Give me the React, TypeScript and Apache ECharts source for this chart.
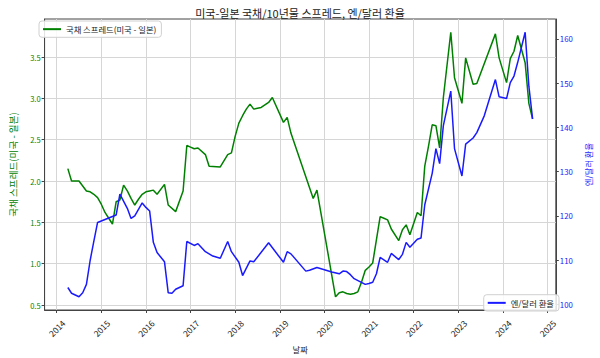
import React, { useEffect, useRef } from "react";
import * as echarts from "echarts";

const FONT = '"Noto Sans CJK KR", "Noto Sans", sans-serif';
const GREEN = "#008000";
const BLUE = "#1a1aff";

const TITLE = "미국-일본 국채/10년물 스프레드, 엔/달러 환율";
const SPREAD_NAME = "국채 스프레드(미국 - 일본)";
const FX_NAME = "엔/달러 환율";
const X_NAME = "날짜";

// month-end observations (YYYY-MM)
const spreadDates = [
  "2014-03", "2014-04", "2014-05", "2014-06", "2014-07", "2014-08", "2014-09", "2014-10", "2014-11", "2014-12",
  "2015-01", "2015-02", "2015-03", "2015-04", "2015-05", "2015-06", "2015-07", "2015-08", "2015-09", "2015-10",
  "2015-11", "2015-12", "2016-01", "2016-02", "2016-03", "2016-05", "2016-06", "2016-08", "2016-10", "2016-11",
  "2016-12", "2017-01", "2017-02", "2017-04", "2017-05", "2017-08", "2017-10", "2017-11", "2017-12", "2018-01",
  "2018-02", "2018-03", "2018-04", "2018-05", "2018-06", "2018-07", "2018-08", "2018-09", "2018-10", "2019-01",
  "2019-02", "2019-03", "2019-09", "2019-10", "2020-03", "2020-04", "2020-05", "2020-06", "2020-07", "2020-08",
  "2020-09", "2020-10", "2020-11", "2020-12", "2021-01", "2021-03", "2021-04", "2021-05", "2021-06", "2021-08",
  "2021-09", "2021-10", "2021-11", "2022-01", "2022-02", "2022-03", "2022-04", "2022-05", "2022-06", "2022-07",
  "2022-08", "2022-10", "2022-11", "2023-01", "2023-02", "2023-04", "2023-05", "2023-10", "2023-11", "2024-01",
  "2024-02", "2024-03", "2024-04", "2024-06", "2024-07", "2024-08",
];
const spreadValues = [
  2.15, 2.0, 2.0, 2.0, 1.94, 1.88, 1.87, 1.84, 1.8, 1.72,
  1.62, 1.55, 1.48, 1.75, 1.77, 1.95, 1.88, 1.79, 1.71, 1.78,
  1.84, 1.87, 1.88, 1.89, 1.84, 1.96, 1.71, 1.63, 1.88, 2.43,
  2.41, 2.39, 2.4, 2.32, 2.18, 2.17, 2.32, 2.34, 2.54, 2.7,
  2.79, 2.87, 2.93, 2.87, 2.88, 2.89, 2.92, 2.95, 3.01, 2.71,
  2.77, 2.58, 1.79, 1.89, 0.6, 0.65, 0.66, 0.64, 0.63, 0.64,
  0.66, 0.78, 0.92, 0.96, 1.01, 1.57, 1.55, 1.53, 1.42, 1.28,
  1.41, 1.47, 1.35, 1.62, 1.58, 2.18, 2.42, 2.68, 2.67, 2.4,
  3.01, 3.8, 3.25, 2.94, 3.49, 3.17, 3.18, 3.78, 3.49, 3.19,
  3.48, 3.57, 3.76, 3.43, 2.94, 2.75,
];

const fxDates = [
  "2014-03", "2014-04", "2014-05", "2014-06", "2014-07", "2014-08", "2014-09", "2014-10", "2014-11", "2015-04",
  "2015-05", "2015-07", "2015-08", "2015-09", "2015-11", "2015-12", "2016-01", "2016-02", "2016-03", "2016-05",
  "2016-06", "2016-07", "2016-08", "2016-10", "2016-11", "2017-01", "2017-02", "2017-04", "2017-06", "2017-08",
  "2017-10", "2017-11", "2018-01", "2018-02", "2018-04", "2018-05", "2018-09", "2019-01", "2019-02", "2019-03",
  "2019-07", "2019-08", "2019-10", "2019-12", "2020-02", "2020-04", "2020-05", "2020-06", "2020-07", "2020-08",
  "2020-11", "2020-12", "2021-01", "2021-02", "2021-03", "2021-05", "2021-06", "2021-08", "2021-09", "2021-10",
  "2021-11", "2022-01", "2022-02", "2022-03", "2022-05", "2022-06", "2022-07", "2022-08", "2022-10", "2022-11",
  "2023-01", "2023-02", "2023-04", "2023-05", "2023-07", "2023-10", "2023-11", "2024-01", "2024-02", "2024-03",
  "2024-04", "2024-06", "2024-07", "2024-08",
];
const fxValues = [
  103.8, 102.5, 102.1, 101.7, 102.6, 104.5, 109.9, 114.3, 118.5, 120.2,
  124.9, 121.7, 119.4, 120.0, 122.9, 121.9, 121.1, 114.0, 111.7, 109.6,
  102.6, 102.5, 103.4, 104.2, 114.2, 113.3, 113.7, 111.9, 110.9, 110.4,
  114.2, 111.9, 109.5, 106.5, 109.8, 109.6, 113.9, 109.5, 111.9, 111.4,
  107.5, 107.7, 108.3, 107.8, 107.3, 106.9, 107.5, 107.4, 106.7, 105.8,
  104.5, 104.7, 105.0, 106.9, 110.6, 109.5, 111.5, 110.1, 111.3, 114.0,
  112.9, 114.7, 115.0, 122.5, 129.6, 135.2, 131.8, 140.4, 148.2, 135.2,
  129.0, 136.2, 137.6, 138.8, 142.6, 150.8, 146.9, 146.5, 150.1, 151.6,
  154.7, 161.5, 149.3, 141.9,
];

const yearTicks = [2014, 2015, 2016, 2017, 2018, 2019, 2020, 2021, 2022, 2023, 2024, 2025];
const spreadTicks = [0.5, 1.0, 1.5, 2.0, 2.5, 3.0, 3.5];
const fxTicks = [100, 110, 120, 130, 140, 150, 160];

// month-end date "YYYY-MM" -> decimal year
const toYear = (s: string) => {
  const [y, m] = s.split("-").map(Number);
  return y + m / 12;
};
const padRange = (vals: number[]) => {
  const lo = Math.min(...vals);
  const hi = Math.max(...vals);
  const p = (hi - lo) * 0.05;
  return [lo - p, hi + p];
};

export default function App() {
  const ref = useRef<HTMLDivElement>(null);
  useEffect(() => {
    if (!ref.current) return;
    const chart = echarts.init(ref.current, undefined, { renderer: "svg" });
    const allX = [...spreadDates, ...fxDates].map(toYear);
    const [xMin, xMax] = padRange(allX);
    const [sMin, sMax] = padRange(spreadValues);
    const [fMin, fMax] = padRange(fxValues);
    const axisColor = "#444";
    const gridColor = "#d6d6d6";
    const legendBase = {
      padding: [4, 5, 4, 4],
      itemWidth: 18,
      itemHeight: 2,
      icon: "rect",
      backgroundColor: "rgba(255,255,255,0.85)",
      borderColor: "#d0d0d0",
      borderWidth: 1,
      borderRadius: 3,
      textStyle: { fontFamily: FONT, fontSize: 8.3, color: "#222" },
    };
    chart.setOption({
      animation: false,
      textStyle: { fontFamily: FONT },
      title: {
        text: TITLE,
        left: "center",
        top: 2,
        textStyle: { fontFamily: FONT, fontSize: 11, fontWeight: "normal", color: "#222" },
      },
      grid: {
        left: 36,
        right: 39,
        top: 19,
        bottom: 44,
        show: true,
        borderColor: axisColor,
        borderWidth: 1,
      },
      legend: [
        { ...legendBase, data: [SPREAD_NAME], left: 39, top: 21 },
        { ...legendBase, data: [FX_NAME], right: 41, bottom: 47 },
      ],
      xAxis: {
        type: "value",
        min: xMin,
        max: xMax,
        name: X_NAME,
        nameLocation: "middle",
        nameGap: 34,
        nameTextStyle: { fontFamily: FONT, fontSize: 8.3, color: "#222" },
        axisLine: { show: true, onZero: false, lineStyle: { color: axisColor } },
        axisTick: { show: true, customValues: yearTicks, length: 3, lineStyle: { color: axisColor } },
        axisLabel: {
          customValues: yearTicks,
          rotate: 45,
          align: "center",
          verticalAlign: "middle",
          margin: 18,
          fontSize: 8.5,
          color: "#222",
          formatter: (v: number) => String(Math.round(v)),
        },
        splitLine: { show: true, lineStyle: { color: gridColor, width: 1 } },
      },
      yAxis: [
        {
          type: "value",
          position: "left",
          min: sMin,
          max: sMax,
          name: SPREAD_NAME,
          nameLocation: "middle",
          nameRotate: 90,
          nameGap: 27,
          nameTextStyle: { fontFamily: FONT, fontSize: 9.6, color: GREEN },
          axisLine: { show: true, onZero: false, lineStyle: { color: axisColor } },
          axisTick: { show: true, customValues: spreadTicks, length: 3, lineStyle: { color: axisColor } },
          axisLabel: {
            customValues: spreadTicks,
            margin: 4,
            fontSize: 7.5,
            color: GREEN,
            formatter: (v: number) => v.toFixed(1),
          },
          splitLine: { show: true, lineStyle: { color: gridColor, width: 1 } },
        },
        {
          type: "value",
          position: "right",
          min: fMin,
          max: fMax,
          name: FX_NAME,
          nameLocation: "middle",
          nameRotate: 90,
          nameGap: 24,
          nameTextStyle: { fontFamily: FONT, fontSize: 8.3, color: BLUE },
          axisLine: { show: true, onZero: false, lineStyle: { color: axisColor } },
          axisTick: { show: true, customValues: fxTicks, length: 3, lineStyle: { color: axisColor } },
          axisLabel: {
            customValues: fxTicks,
            margin: 4,
            fontSize: 7.8,
            color: BLUE,
            formatter: (v: number) => String(Math.round(v)),
          },
          splitLine: { show: false },
        },
      ],
      series: [
        {
          name: SPREAD_NAME,
          type: "line",
          xAxisIndex: 0,
          yAxisIndex: 0,
          symbol: "none",
          data: spreadDates.map((d, i) => [toYear(d), spreadValues[i]]),
          lineStyle: { color: GREEN, width: 1.5 },
          itemStyle: { color: GREEN },
          z: 2,
        },
        {
          name: FX_NAME,
          type: "line",
          xAxisIndex: 0,
          yAxisIndex: 1,
          symbol: "none",
          data: fxDates.map((d, i) => [toYear(d), fxValues[i]]),
          lineStyle: { color: BLUE, width: 1.5 },
          itemStyle: { color: BLUE },
          z: 3,
        },
      ],
    });
    return () => chart.dispose();
  }, []);
  return (
    <div
      ref={ref}
      style={{ position: "fixed", left: 0, top: 0, width: 600, height: 358, background: "#fff" }}
    />
  );
}
